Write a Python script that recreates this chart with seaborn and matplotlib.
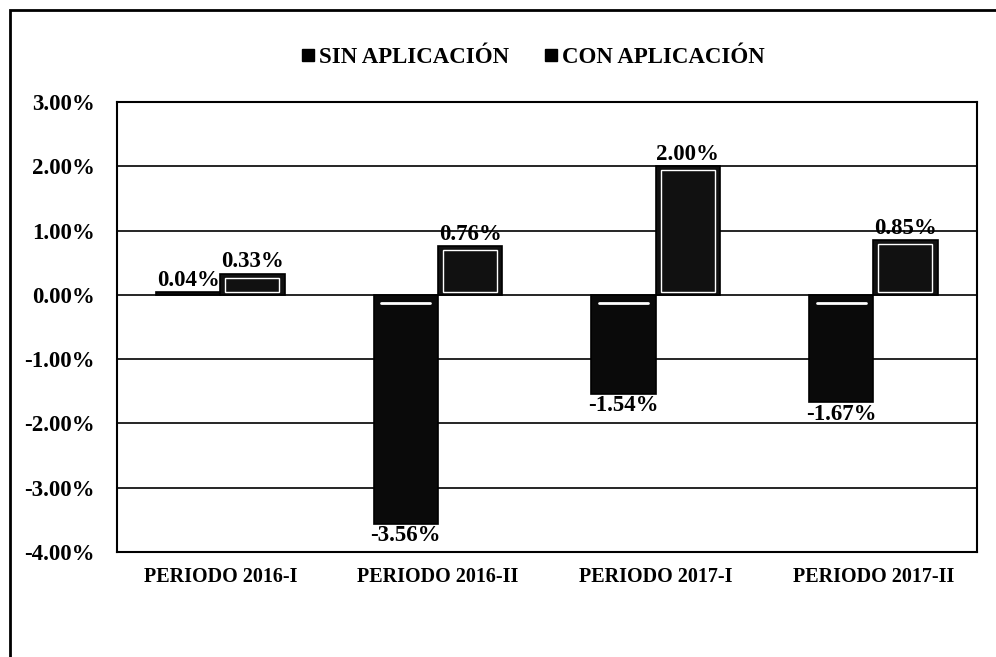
import pandas as pd
import numpy as np
import seaborn as sns
import matplotlib.pyplot as plt
from matplotlib.patches import Rectangle
from matplotlib.lines import Line2D
from matplotlib.ticker import FuncFormatter, MultipleLocator

periodos = ["PERIODO 2016-I", "PERIODO 2016-II", "PERIODO 2017-I", "PERIODO 2017-II"]
sin_aplicacion = [0.04, -3.56, -1.54, -1.67]
con_aplicacion = [0.33, 0.76, 2.00, 0.85]
series = ["SIN APLICACIÓN", "CON APLICACIÓN"]

df = pd.DataFrame({
    "periodo": periodos * 2,
    "valor": sin_aplicacion + con_aplicacion,
    "serie": [series[0]] * 4 + [series[1]] * 4,
})

sns.set_theme(style="white")
plt.rcParams['font.family'] = ['Liberation Serif', 'DejaVu Serif']
plt.rcParams['font.weight'] = 'bold'
plt.rcParams['text.color'] = 'black'
plt.rcParams['xtick.color'] = 'black'
plt.rcParams['ytick.color'] = 'black'

fig = plt.figure(figsize=(9.96, 6.57), dpi=100)
ax = fig.add_axes([0.1175, 0.1598, 0.863, 0.6849])

sns.barplot(data=df, x="periodo", y="valor", hue="serie", ax=ax,
            palette=["#0a0a0a", "#111111"], width=0.59, saturation=1,
            edgecolor="black", linewidth=1.2, legend=False)

ax.set_ylim(-4, 3)
ax.yaxis.set_major_locator(MultipleLocator(1))
ax.yaxis.set_major_formatter(FuncFormatter(lambda v, p: f"{v:.2f}%"))
ax.grid(axis="y", color="black", linewidth=1.2)
ax.set_axisbelow(True)
for s in ax.spines.values():
    s.set_color("black")
    s.set_linewidth(1.5)
ax.set_xlabel("")
ax.set_ylabel("")
ax.tick_params(axis="y", labelsize=16.5, length=0, pad=16, labelcolor="black")
ax.tick_params(axis="x", labelsize=14.5, length=0, pad=11, labelcolor="black")

for cont, vals in zip(ax.containers, [sin_aplicacion, con_aplicacion]):
    labels = [f"{v:.2f}%" for v in vals]
    ax.bar_label(cont, labels=labels, fontsize=16.5, fontweight="bold",
                 padding=1, color="black")

# white inner highlight lines like the scanned bars
for bar, v in zip(ax.containers[0], sin_aplicacion):
    if v < 0:
        x0 = bar.get_x()
        w = bar.get_width()
        ax.plot([x0 + w * 0.12, x0 + w * 0.88], [-0.13, -0.13], color="white", lw=2)
for bar, v in zip(ax.containers[1], con_aplicacion):
    x0 = bar.get_x()
    w = bar.get_width()
    ax.add_patch(Rectangle((x0 + w * 0.08, 0.04), w * 0.84, v - 0.1,
                           fill=False, edgecolor="white", lw=1.0))

# legend
handles = [Line2D([], [], marker="s", linestyle="", markersize=9,
                  markerfacecolor="black", markeredgecolor="black") for _ in series]
fig.legend(handles, series, loc="center", bbox_to_anchor=(0.534, 0.913), ncol=2,
           frameon=False, handletextpad=0.1, columnspacing=1.4, handlelength=0.8,
           prop={"weight": "bold", "size": 16.5})

# outer border
fig.patches.append(Rectangle((0.01, -0.01), 1.0, 0.995, transform=fig.transFigure,
                             fill=False, edgecolor="black", lw=2))

fig.savefig("out.png", dpi=100, facecolor="white")
